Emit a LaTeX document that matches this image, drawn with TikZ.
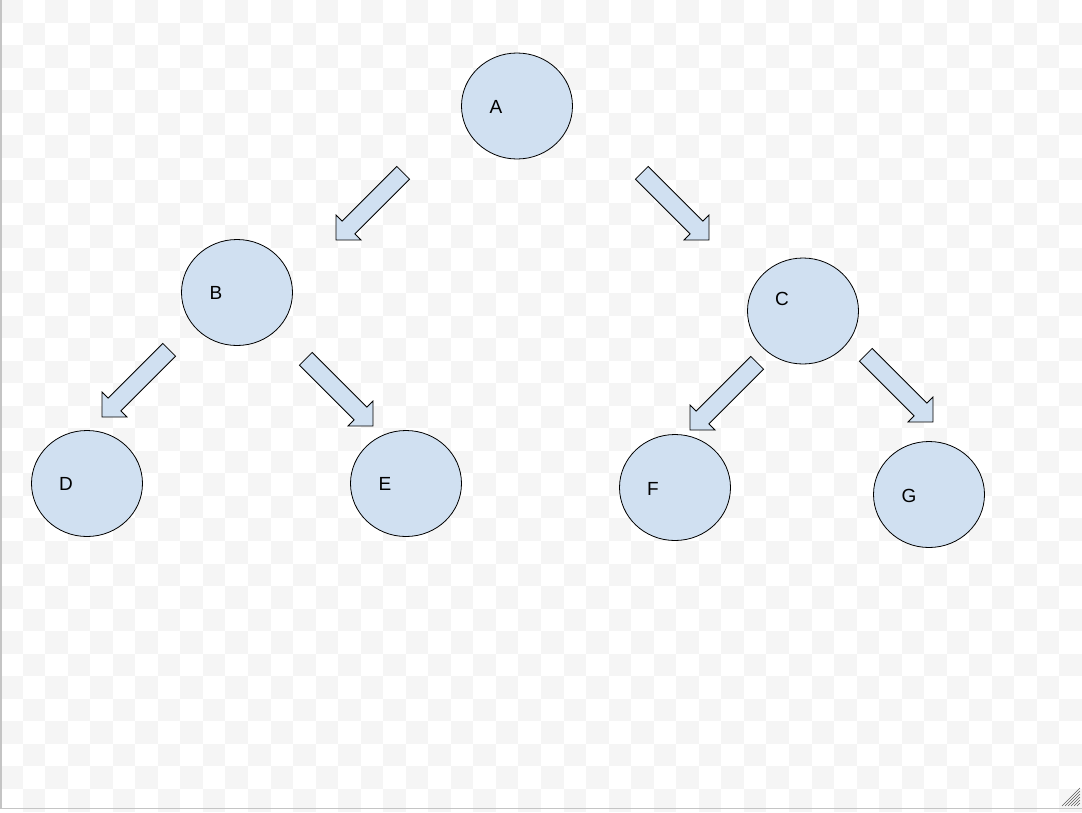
\documentclass[tikz,border=0pt]{standalone}
\usepackage{fontspec}
\setmainfont{Liberation Sans}
\usetikzlibrary{shapes.geometric}
\definecolor{nodefill}{HTML}{D0E0F1}
\definecolor{checker}{HTML}{F5F5F5}
\definecolor{frame}{HTML}{C4C4C4}
\tikzset{
  treenode/.style={ellipse, draw=black, line width=0.8pt, fill=nodefill,
    minimum width=111pt, minimum height=106pt, inner sep=0pt},
  nodelabel/.style={font=\fontsize{19}{22}\selectfont, inner sep=0pt},
  arrowbody/.style={draw=black, line width=0.8pt, fill=nodefill, line join=miter},
  pics/blockarrow/.style={code={
    \path[arrowbody] (-95,9) -- (-17.7,9) -- (-17.7,17.7) -- (0,0)
      -- (-17.7,-17.7) -- (-17.7,-9) -- (-95,-9) -- cycle;}}
}
\def\cell{22.5417}
\begin{document}
\begin{tikzpicture}[x=1pt, y=-1pt]
  % canvas with checkered background
  \useasboundingbox (0,0) rectangle (1082,812);
  \fill[white] (0,0) rectangle (1082,812);
  \foreach \i in {0,...,47}{
    \foreach \j in {0,...,35}{
      \pgfmathtruncatemacro{\cellparity}{mod(\i+\j,2)}
      \ifnum\cellparity=0
        \fill[checker] ({\i*\cell},{\j*\cell}) rectangle ({(\i+1)*\cell},{(\j+1)*\cell});
      \fi
    }
  }
  \draw[frame, line width=1.5pt] (1,0) -- (1,808.5) -- (1082,808.5);
  % resize grip
  \foreach \k in {0,...,5}
    \draw[black!65, line width=0.6pt] ({1062+3*\k},806) -- (1080,{788+3*\k});

  % tree nodes
  \node[treenode] (A) at (517,106) {};
  \node[treenode] (B) at (237,292.5) {};
  \node[treenode] (C) at (803,311) {};
  \node[treenode] (D) at (87,483.5) {};
  \node[treenode] (E) at (406,483.5) {};
  \node[treenode] (F) at (675,487.5) {};
  \node[treenode] (G) at (929,494.5) {};

  % labels sit left of each centre
  \node[nodelabel] (la) at ([xshift=-21pt,yshift=-1pt]A.center) {A};
  \node[nodelabel] (lb) at ([xshift=-21pt]B.center) {B};
  \node[nodelabel] (lc) at ([xshift=-21pt,yshift=12pt]C.center) {C};
  \node[nodelabel] (ld) at ([xshift=-21pt]D.center) {D};
  \node[nodelabel] (le) at ([xshift=-21pt]E.center) {E};
  \node[nodelabel] (lf) at ([xshift=-22pt,yshift=-1pt]F.center) {F};
  \node[nodelabel] (lg) at ([xshift=-20pt,yshift=-1pt]G.center) {G};

  % block arrows, placed at their tips
  \pic[rotate=225] (ab) at (336,240) {blockarrow};
  \pic[rotate=-45] (ac) at (709,240) {blockarrow};
  \pic[rotate=225] (bd) at (102,417) {blockarrow};
  \pic[rotate=-45] (be) at (373,426) {blockarrow};
  \pic[rotate=225] (cf) at (690,430) {blockarrow};
  \pic[rotate=-45] (cg) at (933,422) {blockarrow};
\end{tikzpicture}
\end{document}
